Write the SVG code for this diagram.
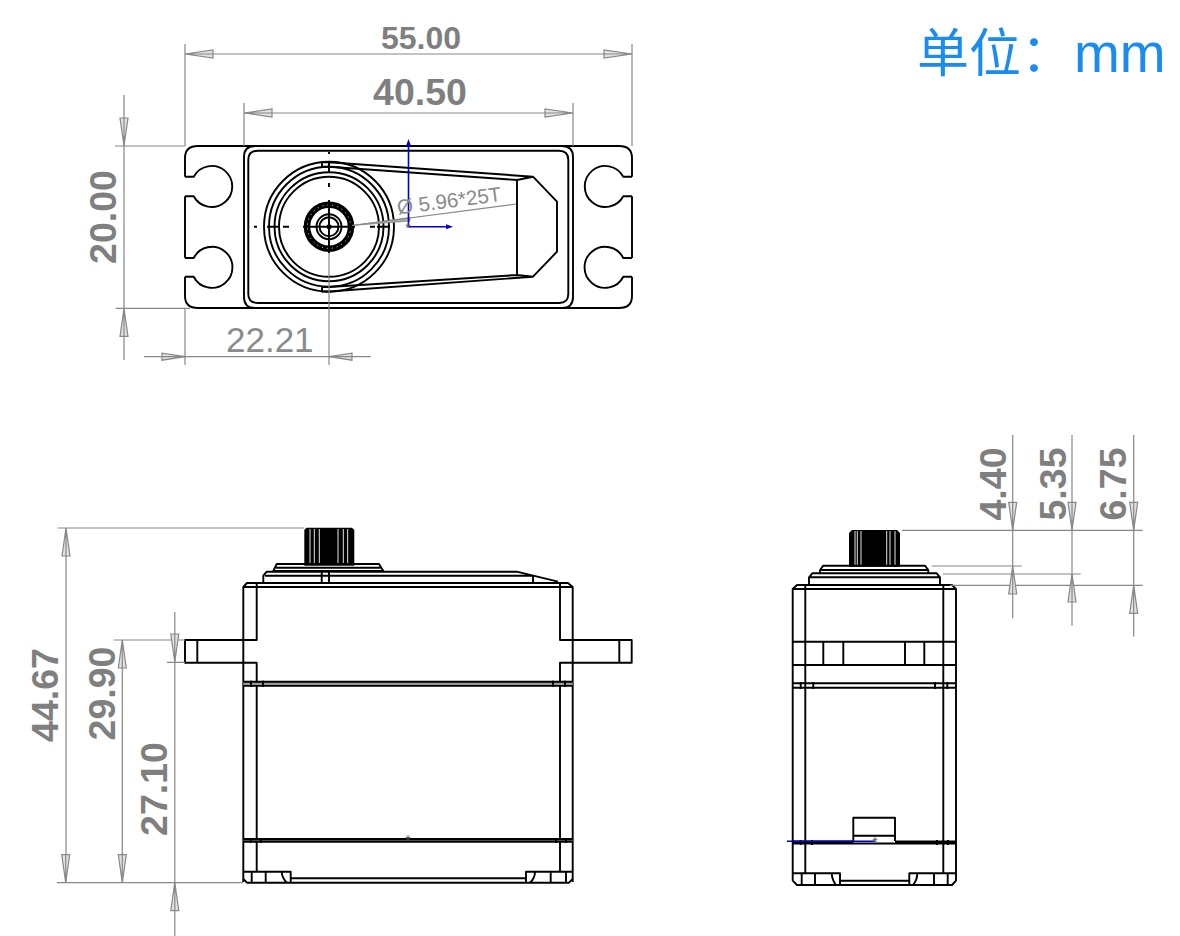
<svg xmlns="http://www.w3.org/2000/svg" width="1180" height="936" viewBox="0 0 1180 936">
<style>
.k{fill:none;stroke:#000;stroke-width:1.9;stroke-linejoin:round}
.g{fill:none;stroke:#888;stroke-width:1.2}
.b{fill:none;stroke:#0000c8;stroke-width:1.6}
.fat{fill:none;stroke:#000;stroke-width:2.4}
.ar{fill:#e2e2e2;stroke:#888;stroke-width:1.2}
.d{font-family:"Liberation Sans",Arial,sans-serif;font-weight:700;fill:#7f7f7f;text-anchor:middle;font-size:37.5px}
.t{font-family:"Liberation Sans",Arial,sans-serif;fill:#8a8a8a}
.u{font-family:"Liberation Sans","Noto Sans CJK SC",sans-serif;fill:#1a8cf0;font-size:52px}
.w{fill:none;stroke:#fff;stroke-width:.9}
.s{font-family:"Liberation Sans",sans-serif;font-size:14px;fill:#555;text-anchor:middle}
</style>
<defs>
<path id="a" class="ar" d="M0,0L28,-4L28,4Z M0,0L28,0"/>
<path id="as" class="ar" d="M0,0L23,-3.5L23,3.5Z M0,0L23,0"/>
<path id="bh" fill="#0000c8" d="M0,0L-7,-2.5L-7,2.5Z"/>
</defs>
<rect width="1180" height="936" fill="#fff"/>

<g id="top-view">
<path class="k" d="M198,146H619Q632,146 632,158V176.7M632,196.200V258M632,276.7V296Q632,308 619,308H198Q185,308 185,296V276.7M185,258V196.200M185,176.7V158Q185,146 198,146"/>
<path class="k" d="M185,176.7H193.700A20.5,20.5 0 1 1 193.700,196.200H185M185,258H193.700A20.5,20.5 0 1 1 193.700,276.7H185"/>
<path class="k" d="M632,176.7H623.300A20.5,20.5 0 1 0 623.300,196.200H632M632,258H623.300A20.5,20.5 0 1 0 623.300,276.7H632"/>
<path class="k" d="M255,308Q244,308 244,297V157Q244,146 255,146M562,146Q573,146 573,157V297Q573,308 562,308"/>
<path class="k" d="M258,150.7H559Q568.3,150.7 568.3,160V294Q568.3,303 559,303H258Q248.3,303 248.3,294V160Q248.3,150.7 258,150.7"/>
<circle class="k" cx="329" cy="226.7" r="65"/>
<circle class="k" cx="329" cy="226.7" r="60"/>
<circle class="k" cx="329" cy="226.7" r="54.5"/>
<circle class="k" cx="329" cy="226.7" r="50"/>
<path class="k" d="M322,162.3H329V166.7H322ZM329,162.3L533,176.7L557,201.7V251.7L533,276.7L329,291.5H322V287H329L517,275V180L329,166.7M517,180L533,176.7M517,275L533,276.7"/>
<circle cx="329" cy="226.7" r="22" fill="none" stroke="#000" stroke-width="6.5"/>
<circle cx="329" cy="226.7" r="21.7" fill="none" stroke="#fff" stroke-width=".9" stroke-dasharray="1 4"/>
<circle class="k" cx="329" cy="226.7" r="12.5"/>
<circle class="k" cx="329" cy="226.7" r="9.5"/>
<circle cx="329" cy="226.7" r="2.5" fill="#000"/>
<path class="k" d="M303,226.7H355M329,200V253"/>
<path class="k" d="M254,226.7H257M267,226.7H278M283,226.7H289M370,226.7H375M377,226.7H390M329,152V154M329,162V173M329,183V187"/>
</g>

<g id="front-view">
<path fill="#000" d="M304.3,565.7V530L306.5,527.7H352L354.3,530V565.7Z"/>
<path class="w" d="M310,529V565M314.3,529V565M319.3,529V565M338,529V565M343.3,529V565M347.7,529V565"/>
<path class="k" d="M273.3,571L276.7,564H379L383.3,571ZM276,567.7H381"/>
<path class="k" d="M263.3,583V575.7L266.7,571.7H516.7L558,581.7M265,575.7H533M533,575.7V583M321.7,571.7V583M329,571.7V583"/>
<path class="k" d="M243.3,882V587L247,583H568L572.7,587V882M243.3,587H572.7"/>
<path class="k" d="M256.7,583V640H185V662.7H256.7V871.7M197.3,640V662.7"/>
<path class="k" d="M560,583V640H631.7V662.7H560V871.7M619.3,640V662.7"/>
<rect x="243.3" y="682" width="329.4" height="3.6" fill="#999"/>
<path class="k" d="M243.3,681.7H572.7M243.3,685.9H572.7M251,680.5V687M263,680.5V687M553,680.5V687M565,680.5V687"/>
<rect x="243.3" y="839" width="329.4" height="2.7" fill="#666"/>
<path class="k" d="M243.3,839H572.7M243.3,841.7H572.7M250.7,838V843M261,838V843M556,838V843M566,838V843"/>
<path class="k" d="M243.3,871.7H290.7V882.7M243.3,879L247,882.7H569L572.7,879M290.7,878.3H526M526,882.7V871.7H572.7M251.7,871.7V882.7M265.7,871.7V882.7M281.7,871.7Q282,878 287,882.7M550.7,871.7V882.7M566,871.7V882.7M535,871.7Q535,878 530,882.7"/>
<text class="s" x="408" y="845">*</text>
</g>

<g id="side-view">
<path fill="#000" d="M849,566.7V533L852,530H897L900,533V566.7Z"/>
<path class="w" d="M855,531V566M857.3,531V566M861,531V566M886.7,531V566M890,531V566M895,531V566"/>
<path class="k" d="M820,570L823.3,565.7H925L928.3,570ZM820,570V573.3M928.3,570V573.3"/>
<path class="k" d="M809,585V577.3L812.3,573.3H936.7L940,577.3V585M809,577.3H940"/>
<path class="k" d="M792.7,880.7V589L797,585H952L956,589V880.7L952,885H797L792.7,880.7M792.7,589H956"/>
<path class="k" d="M805.3,585V873.3M943.3,585V873.3M792.7,641.7H956M792.7,665H956M823.3,641.7V665M843.3,641.7V665M905,641.7V665M924.3,641.7V665"/>
<path class="k" d="M792.7,683.3H956M792.7,687.7H956M800.7,682V689M813.3,682V689M935,682V689M947.3,682V689"/>
<path class="k" d="M853.3,841V817.7H895V841M853.3,835.7H895"/>
<path class="fat" d="M792.7,841.7H853.3M895,841.7H956"/>
<path class="k" d="M792.7,843.5H956M800.7,840V845M812,840V845M937,840V845M948,840V845"/>
<path class="k" d="M792.7,873.3H840V885M909.3,885V873.3H956M840,880.7H909.3M801.7,873.3V885M815,873.3V885M831.7,873.3Q832,880 836,885M917.3,873.3Q917.3,880 913,885M934,873.3V885M947.7,873.3V885"/>
<path class="b" d="M787,841.3H875"/>
<text class="s" x="875" y="847">*</text>
</g>

<g id="connectors">
<path class="g" d="M185,44V146M632,44V146M185,54H632M244,103V146M573,103V146M244,113H573"/>
<use href="#a" transform="translate(185,54)"/><use href="#a" transform="translate(632,54) rotate(180)"/>
<use href="#a" transform="translate(244,113)"/><use href="#a" transform="translate(573,113) rotate(180)"/>
<path class="g" d="M124,95V360M115,146H185M115.700,308.300H190"/>
<use href="#a" transform="translate(124,146) rotate(-90)"/><use href="#a" transform="translate(124,308.300) rotate(90)"/>
<path class="g" d="M144,356.700H370.700M185,308V365M329,253V365"/>
<use href="#as" transform="translate(185,356.700) rotate(180)"/><use href="#as" transform="translate(329,356.700)"/>
<path d="M352,225.500L410,217.500L410,221Z" fill="#aaa" stroke="#888" stroke-width=".8"/>
<path class="g" d="M352,225.500L516,204"/>
<path class="b" d="M408.500,226.700V146M408.500,226.700H446"/>
<use href="#bh" transform="translate(408.500,139) rotate(-90)"/><use href="#bh" transform="translate(453,226.700)"/>
<text class="s" x="408" y="233">*</text>

<path class="g" d="M58,528H304M66,528V882.700M57,882.700H243M122.300,640V882.700M114,640H185M174.800,612V936M167,662.300H185"/>
<use href="#a" transform="translate(66,528) rotate(90)"/><use href="#a" transform="translate(65.700,882.700) rotate(-90)"/>
<use href="#a" transform="translate(122.300,640) rotate(90)"/><use href="#a" transform="translate(122.300,882.700) rotate(-90)"/>
<use href="#a" transform="translate(174.800,662) rotate(-90)"/><use href="#a" transform="translate(174.800,882.700) rotate(90)"/>

<path class="g" d="M902,530.300H1142.700M931.700,566H1021.700M942.700,574H1080.700M950,585.300H1142.700M1012.700,435V618.300M1072,435V625.700M1133.700,435V636.700"/>
<use href="#a" transform="translate(1012.700,530.300) rotate(-90)"/><use href="#a" transform="translate(1072,530.300) rotate(-90)"/><use href="#a" transform="translate(1133.700,530.300) rotate(-90)"/>
<use href="#a" transform="translate(1012.700,566) rotate(90)"/><use href="#a" transform="translate(1072,574) rotate(90)"/><use href="#a" transform="translate(1133.700,585.300) rotate(90)"/>
</g>

<g id="labels">
<text class="d" x="421" y="49" style="font-size:32px">55.00</text>
<text class="d" x="420" y="105">40.50</text>
<text class="d" transform="translate(116,217) rotate(-90)">20.00</text>
<text class="t" x="226" y="352" font-size="35">22.21</text>
<text class="t" transform="translate(398,214.500) rotate(-7.500)" font-size="20.500">Ø 5.96*25T</text>
<text class="d" transform="translate(58,695) rotate(-90)">44.67</text>
<text class="d" transform="translate(115,693.500) rotate(-90)">29.90</text>
<text class="d" transform="translate(167,789) rotate(-90)">27.10</text>
<text class="d" transform="translate(1006,484) rotate(-90)">4.40</text>
<text class="d" transform="translate(1065.500,484) rotate(-90)">5.35</text>
<text class="d" transform="translate(1125.700,484) rotate(-90)">6.75</text>
<text class="u" x="917" y="72">单位：<tspan x="1074" y="72" style="font-size:55px">mm</tspan></text>
</g>
</svg>
